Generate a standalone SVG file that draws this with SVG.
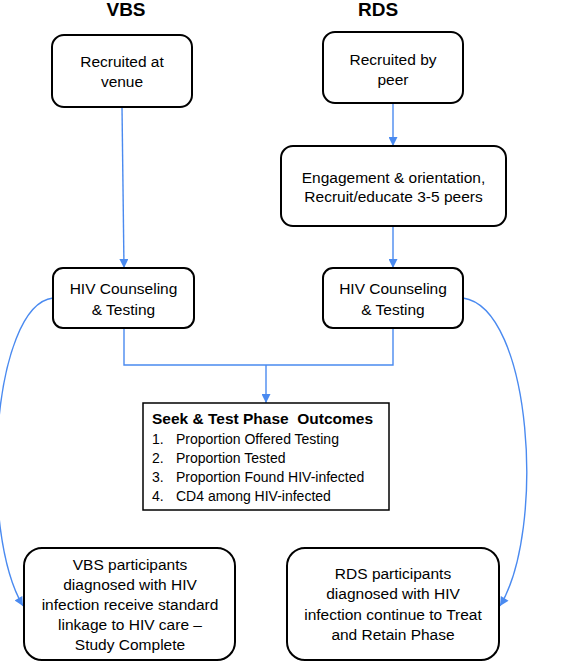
<svg xmlns="http://www.w3.org/2000/svg" width="567" height="662" viewBox="0 0 567 662">
<style>
text{font-family:"Liberation Sans",Arial,sans-serif;fill:#000}
.t{font-size:15.5px;text-anchor:middle}
.h{font-size:19px;font-weight:bold;text-anchor:middle}
.o{font-size:14px}
.b{fill:#fff;stroke:#000;stroke-width:2}
.c{fill:none;stroke:#4a8af0;stroke-width:1.4}
</style>
<defs>
<marker id="a" viewBox="0 0 10 10" refX="10" refY="5" markerWidth="10" markerHeight="9" markerUnits="userSpaceOnUse" orient="auto">
<path d="M0,0 L10,5 L0,10 Z" fill="#4a8af0"/>
</marker>
</defs>
<rect width="567" height="662" fill="#fff"/>
<text class="h" x="126" y="16">VBS</text>
<text class="h" x="378" y="16">RDS</text>
<g id="connectors">
<path class="c" d="M122,107 L124,268" marker-end="url(#a)"/>
<path class="c" d="M393,103 L393,146" marker-end="url(#a)"/>
<path class="c" d="M393,226 L393,268" marker-end="url(#a)"/>
<path class="c" d="M124,328 L124,365 L393,365 L393,328"/>
<path class="c" d="M266,365 L266,403" marker-end="url(#a)"/>
<path class="c" d="M53,298 C-8,305 -22,530 23,606" marker-end="url(#a)"/>
<path class="c" d="M463,298 C532,308 546,530 500,606" marker-end="url(#a)"/>
</g>
<g id="vbs-recruit">
<rect class="b" x="52" y="35" width="140" height="72" rx="12"/>
<text class="t" x="122" y="67">Recruited at</text>
<text class="t" x="122" y="87">venue</text>
</g>
<g id="rds-recruit">
<rect class="b" x="323" y="32" width="140" height="71" rx="12"/>
<text class="t" x="393" y="65">Recruited by</text>
<text class="t" x="393" y="85">peer</text>
</g>
<g id="rds-engage">
<rect class="b" x="281" y="146" width="225" height="80" rx="12"/>
<text class="t" x="393.5" y="183">Engagement &amp; orientation,</text>
<text class="t" x="393.5" y="202">Recruit/educate 3-5 peers</text>
</g>
<g id="vbs-hct">
<rect class="b" x="53" y="268" width="141" height="60" rx="10"/>
<text class="t" x="123.5" y="294">HIV Counseling</text>
<text class="t" x="123.5" y="315">&amp; Testing</text>
</g>
<g id="rds-hct">
<rect class="b" x="323" y="268" width="140" height="60" rx="10"/>
<text class="t" x="393" y="294">HIV Counseling</text>
<text class="t" x="393" y="315">&amp; Testing</text>
</g>
<g id="outcomes">
<rect x="143" y="403" width="246" height="107" fill="#fff" stroke="#000" stroke-width="1.5"/>
<text x="152" y="424" font-size="15.5" font-weight="bold" xml:space="preserve">Seek &amp; Test Phase  Outcomes</text>
<text class="o" x="152" y="444">1.</text><text class="o" x="176" y="444">Proportion Offered Testing</text>
<text class="o" x="152" y="463">2.</text><text class="o" x="176" y="463">Proportion Tested</text>
<text class="o" x="152" y="482">3.</text><text class="o" x="176" y="482">Proportion Found HIV-infected</text>
<text class="o" x="152" y="501">4.</text><text class="o" x="176" y="501">CD4 among HIV-infected</text>
</g>
<g id="vbs-outcome">
<rect class="b" x="24" y="548" width="211" height="112" rx="18"/>
<text class="t" x="130" y="570">VBS participants</text>
<text class="t" x="130" y="590">diagnosed with HIV</text>
<text class="t" x="130" y="610">infection receive standard</text>
<text class="t" x="130" y="630">linkage to HIV care –</text>
<text class="t" x="130" y="650">Study Complete</text>
</g>
<g id="rds-outcome">
<rect class="b" x="287" y="548" width="212" height="112" rx="18"/>
<text class="t" x="393" y="579">RDS participants</text>
<text class="t" x="393" y="599">diagnosed with HIV</text>
<text class="t" x="393" y="620">infection continue to Treat</text>
<text class="t" x="393" y="640">and Retain Phase</text>
</g>
</svg>
